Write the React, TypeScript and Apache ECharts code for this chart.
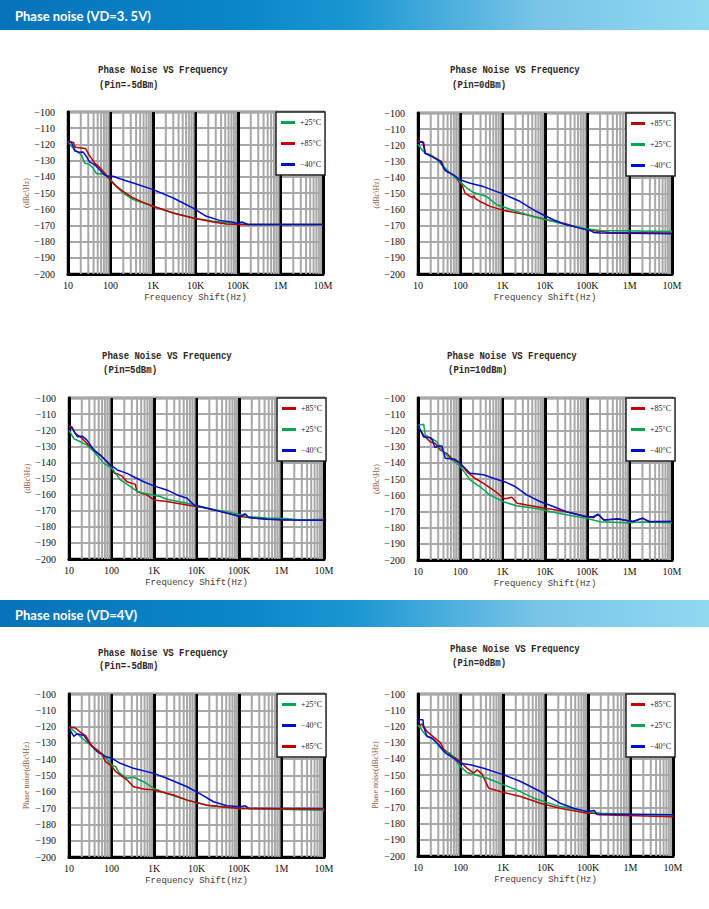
import React, { useEffect, useRef } from "react";
import * as echarts from "echarts";

// ---------- axis / tick definitions ----------
const xTickLabels = ["10", "100", "1K", "10K", "100K", "1M", "10M"];
const xMin = 10;
const xMax = 1e7;
const yMin = -200;
const yMax = -100;
const yStep = 10;
const decades = [10, 100, 1e3, 1e4, 1e5, 1e6];
const minorMultipliers = [2, 3, 4, 5, 6, 7, 8, 9];

const NAME_P85 = "+85°C";
const NAME_P25 = "+25°C";
const NAME_M40 = "−40°C";

// ---------- Chart 1 : VD=3.5V, Pin=-5dBm ----------
const a1_p25 = [[10,-117.7],[12,-121.2],[15.7,-124.3],[20.6,-126.3],[24.7,-131.5],[32.5,-132.5],[38.8,-134.6],[46.6,-138],[66.9,-138.3],[80.2,-139.7],[101,-141.8],[138,-145.9],[198,-150],[344,-154.1],[1010,-158.2],[2980,-162.3],[8800,-165.4],[26000,-167.5],[77000,-168.5],[98000,-169.1],[163000,-169.5],[1e7,-169.5]];
const a1_p85 = [[10,-118.5],[13.6,-118.9],[14.6,-121.8],[26,-122.6],[31,-126.3],[42.5,-131.5],[55.6,-134.2],[73,-137.7],[101,-142.4],[138,-145.9],[198,-149],[344,-153.1],[590,-155.8],[1010,-158.2],[3000,-162.3],[8800,-165.4],[26000,-167.9],[54000,-169.1],[110000,-169.5],[1e7,-169.5]];
const a1_m40 = [[10,-117.7],[12,-118.5],[14.4,-123.9],[18.8,-124.9],[22.6,-124.7],[27,-127.4],[32.5,-130.9],[42.5,-132.5],[55.6,-135.6],[69,-138.3],[87,-139.7],[115,-139.7],[165,-141.2],[344,-143.8],[1010,-147.9],[3000,-153.1],[8800,-159.3],[18000,-164.4],[37000,-166.9],[77000,-168.1],[102000,-168.9],[123000,-167.9],[148000,-168.7],[176000,-169.5],[1e7,-169.5]];

// ---------- Chart 2 : VD=3.5V, Pin=0dBm ----------
const b2_p85 = [[10,-117.4],[13.6,-118.2],[14.9,-125],[19.6,-126],[28,-128.5],[33.6,-129.8],[36,-130],[40.3,-134.3],[48,-136.4],[69,-138.4],[99,-143.6],[109,-144.6],[130,-149.8],[171,-151.9],[200,-152.5],[210,-151.5],[224,-153],[294,-155],[506,-158],[1040,-160.5],[3700,-163.2],[10900,-166.3],[32000,-169],[96000,-172.5],[140000,-173.1],[340000,-174.2],[1e7,-174.6]];
const b2_p25 = [[10,-119.4],[12.4,-122.9],[14.9,-125],[19.6,-126],[28,-129],[40.3,-133.3],[57.8,-137.4],[99,-142.6],[143,-146.7],[205,-149.4],[420,-151.9],[725,-157],[1250,-159],[2100,-161.2],[5300,-164.3],[10900,-166.3],[32000,-169.4],[96000,-171.9],[200000,-173],[1e7,-173.6]];
const b2_m40 = [[10,-118.2],[13.1,-118.2],[14.6,-125],[21,-127],[33.6,-130],[44,-135.7],[69,-138.4],[99,-141.5],[171,-143.6],[350,-145.7],[1040,-150.4],[2600,-155],[6300,-161.2],[15700,-166.3],[32000,-169.4],[66000,-171.5],[120000,-173.1],[140000,-174.2],[200000,-174.6],[1e7,-175]];

// ---------- Chart 3 : VD=3.5V, Pin=5dBm ----------
const c3_p85 = [[10,-117.5],[11.8,-118],[14,-122],[18.5,-124.1],[26.5,-128.2],[41.6,-133.4],[54.6,-135.5],[78,-139.6],[103,-143.7],[118,-146.8],[135,-147],[176,-148.5],[232,-152],[300,-153],[360,-153.5],[400,-158.1],[685,-160.2],[990,-163.3],[2000,-164.3],[6000,-166.4],[17800,-168.5],[52000,-171.5],[107000,-173.6],[220000,-174.6],[1100000,-175.7],[1e7,-175.5]];
const c3_p25 = [[10,-120],[13,-125.2],[18.5,-127.2],[26.5,-129.3],[38.8,-133.4],[66.5,-140.6],[103,-143.7],[162,-150.9],[280,-155],[400,-158],[575,-159.2],[1400,-161.2],[2000,-162.9],[6000,-165.4],[17800,-168.5],[76000,-171.5],[155000,-173.6],[450000,-174.6],[1200000,-174.8],[2800000,-175.7],[1e7,-175.7]];
const c3_m40 = [[10,-119],[11.5,-118.4],[15.7,-124],[20.6,-123.7],[26.5,-126.2],[38.8,-132.4],[54.6,-135.5],[95,-141.6],[137,-144.7],[232,-146.8],[330,-148.9],[575,-152],[990,-154.6],[2000,-157.1],[3500,-160.2],[6000,-162.3],[8700,-166.4],[17800,-168.5],[52000,-171.5],[107000,-173.6],[140000,-171.9],[170000,-174.2],[450000,-175.3],[2800000,-176],[1e7,-176]];

// ---------- Chart 4 : VD=3.5V, Pin=10dBm ----------
const d4_p85 = [[10,-117.5],[13.6,-123],[19.5,-127.1],[25.6,-128.1],[33.6,-132.2],[48,-134.3],[63,-137.4],[99,-140.5],[143,-145.6],[225,-149.7],[352,-152.7],[607,-156.8],[950,-160.9],[1140,-162.2],[1650,-161.3],[2200,-165],[3700,-166.1],[10900,-168.2],[32000,-170.2],[96000,-173.3],[140000,-173.9],[180000,-171.9],[245000,-175.3],[540000,-174.5],[700000,-175.3],[1200000,-176.2],[2000000,-174.2],[2900000,-176.2],[1e7,-176.2]];
const d4_p25 = [[10,-116.9],[13.6,-116.2],[14.9,-123],[21.4,-125.1],[28,-127.1],[36.8,-132.2],[57.8,-137.4],[99,-142.1],[171,-150.7],[294,-154.8],[506,-160],[1040,-164],[2100,-166.5],[6300,-168.2],[22000,-171.3],[96000,-174.3],[200000,-176.4],[830000,-177],[2000000,-176.6],[1e7,-177]];
const d4_p40 = [[10,-116.9],[13.6,-124.1],[19.5,-124.6],[22,-126],[25,-130.6],[30,-129.6],[36.8,-129.6],[44,-137.2],[75,-137.8],[99,-140.3],[171,-146.4],[352,-147.4],[607,-149.5],[1250,-152.2],[1950,-154.6],[3700,-159.8],[7600,-163.9],[15700,-167],[32000,-170.2],[96000,-173.3],[140000,-173.3],[180000,-171.7],[245000,-175.3],[540000,-174.7],[1200000,-176.2],[2000000,-174.2],[2900000,-176.4],[1e7,-176.2]];

// ---------- Chart 5 : VD=4V, Pin=-5dBm ----------
const e5_p25 = [[10,-120.3],[11.8,-121.6],[22.5,-128.1],[32.3,-131.2],[42.3,-134.3],[55,-136.3],[66,-137.4],[100,-143.5],[125,-144.6],[150,-148.3],[234,-151.7],[330,-151.1],[570,-153.8],[990,-157.9],[2000,-161],[6000,-165.1],[17800,-168.2],[52000,-169.6],[107000,-170.2],[450000,-170.6],[1e7,-171.3]];
const e5_m40 = [[10,-121],[13,-126],[15.4,-124.4],[22.5,-125.5],[32.3,-131.2],[46,-135.3],[72,-138.4],[100,-139.4],[160,-142.5],[330,-145.6],[990,-148.7],[2000,-151.7],[6000,-156.9],[12500,-161.4],[25000,-166.1],[52000,-168.6],[107000,-169.2],[140000,-168.6],[170000,-170.2],[1e7,-170.2]];
const e5_p85 = [[10,-120.3],[14.3,-120.9],[18.8,-123.6],[24.6,-125.5],[35,-132.2],[46,-134.3],[60,-136.8],[72,-141.5],[100,-144.1],[125,-147.6],[234,-152.8],[330,-156.9],[570,-158.3],[990,-158.9],[2900,-162],[6000,-165.1],[17800,-168.2],[107000,-170.2],[1e7,-170.6]];

// ---------- Chart 6 : VD=4V, Pin=0dBm ----------
const f6_p85 = [[10,-120.4],[12.4,-118.4],[16.3,-123.1],[23.4,-126.6],[31,-129.2],[33.5,-129.9],[40,-134],[57.5,-137.5],[99,-141.6],[142,-145.8],[204,-148.9],[245,-146.8],[320,-149.3],[460,-158.1],[860,-160.2],[2600,-163.3],[7600,-167.4],[22000,-170.5],[96000,-173.6],[140000,-173.6],[180000,-174.6],[1e7,-175.7]];
const f6_p25 = [[10,-119],[14.9,-125.2],[23.4,-128.2],[40,-135.5],[57.5,-136.5],[99,-144.7],[142,-148.5],[420,-152],[1040,-156.1],[2100,-159.2],[5300,-164.3],[22000,-169.5],[96000,-172.6],[200000,-173.6],[850000,-174.2],[1e7,-174.6]];
const f6_m40 = [[10,-116.9],[11,-115.9],[13.1,-115.9],[13.6,-120.4],[16.3,-126.2],[21.3,-127.2],[31,-131.3],[44.5,-136.5],[69,-139.6],[99,-142.7],[171,-143.7],[350,-145.8],[1040,-149.9],[2600,-154],[7600,-160.2],[22000,-167.4],[46000,-170.5],[96000,-172.6],[140000,-171.9],[160000,-174],[1e7,-174.6]];

// ---------- styling ----------
const RED = "#c00000";
const GREEN = "#00a651";
const BLUE = "#0010c8";
const GRID_GRAY = "#a8a8a8";
const MONO = '"Liberation Mono", "DejaVu Sans Mono", monospace';
const SERIF = '"Liberation Serif", "DejaVu Serif", serif';

type Pt = number[];
interface ChartCfg {
  grid: { left: number; top: number; width: number; height: number };
  titleXY: [number, number];
  subXY: [number, number];
  sub: string;
  yName: string;
  yNameGap: number;
  legendXY: [number, number];
  series: { name: string; data: Pt[]; color: string }[];
}

const charts: ChartCfg[] = [
  {
    grid: { left: 68, top: 112, width: 255, height: 162 },
    titleXY: [98, 70], subXY: [99, 85], sub: "(Pin=-5dBm)",
    yName: "(dBc\\Hz)", yNameGap: 37, legendXY: [276, 112],
    series: [
      { name: NAME_P25, data: a1_p25, color: GREEN },
      { name: NAME_P85, data: a1_p85, color: RED },
      { name: NAME_M40, data: a1_m40, color: BLUE },
    ],
  },
  {
    grid: { left: 418, top: 113, width: 254, height: 161 },
    titleXY: [450, 70], subXY: [452, 85], sub: "(Pin=0dBm)",
    yName: "(dBc\\Hz)", yNameGap: 37, legendXY: [626, 113],
    series: [
      { name: NAME_P85, data: b2_p85, color: RED },
      { name: NAME_P25, data: b2_p25, color: GREEN },
      { name: NAME_M40, data: b2_m40, color: BLUE },
    ],
  },
  {
    grid: { left: 69, top: 398, width: 255, height: 161 },
    titleXY: [102, 356], subXY: [103, 370], sub: "(Pin=5dBm)",
    yName: "(dBc\\Hz)", yNameGap: 37, legendXY: [277, 398],
    series: [
      { name: NAME_P85, data: c3_p85, color: RED },
      { name: NAME_P25, data: c3_p25, color: GREEN },
      { name: NAME_M40, data: c3_m40, color: BLUE },
    ],
  },
  {
    grid: { left: 418, top: 398, width: 254, height: 162 },
    titleXY: [447, 356], subXY: [448, 370], sub: "(Pin=10dBm)",
    yName: "(dBc\\Hz)", yNameGap: 37, legendXY: [626, 398],
    series: [
      { name: NAME_P85, data: d4_p85, color: RED },
      { name: NAME_P25, data: d4_p25, color: GREEN },
      { name: NAME_M40, data: d4_p40, color: BLUE },
    ],
  },
  {
    grid: { left: 69, top: 694, width: 255, height: 163 },
    titleXY: [98, 653], subXY: [99, 666], sub: "(Pin=-5dBm)",
    yName: "Phase noise(dBc\\Hz)", yNameGap: 39, legendXY: [277, 694],
    series: [
      { name: NAME_P25, data: e5_p25, color: GREEN },
      { name: NAME_M40, data: e5_m40, color: BLUE },
      { name: NAME_P85, data: e5_p85, color: RED },
    ],
  },
  {
    grid: { left: 418, top: 694, width: 255, height: 162 },
    titleXY: [450, 649], subXY: [452, 663], sub: "(Pin=0dBm)",
    yName: "Phase noise(dBc\\Hz)", yNameGap: 39, legendXY: [626, 694],
    series: [
      { name: NAME_P85, data: f6_p85, color: RED },
      { name: NAME_P25, data: f6_p25, color: GREEN },
      { name: NAME_M40, data: f6_m40, color: BLUE },
    ],
  },
];

const headers = [
  { text: "Phase noise (VD=3. 5V)", top: 0, height: 30 },
  { text: "Phase noise (VD=4V)", top: 600, height: 27 },
];

function buildOption() {
  const minorFreqs = decades.flatMap((d) => minorMultipliers.map((m) => m * d));
  const grid: any[] = [];
  const xAxis: any[] = [];
  const yAxis: any[] = [];
  const series: any[] = [];
  const legend: any[] = [];
  const graphic: any[] = [];

  const headerFill = new echarts.graphic.LinearGradient(0, 0, 1, 0, [
    { offset: 0, color: "#0672ba" },
    { offset: 0.35, color: "#0a88c9" },
    { offset: 0.5, color: "#1b97d2" },
    { offset: 0.76, color: "#79c5e7" },
    { offset: 1, color: "#8fd9f1" },
  ]);
  headers.forEach((h) => {
    graphic.push({
      type: "rect",
      shape: { x: 0, y: h.top, width: 709, height: h.height },
      style: { fill: headerFill },
      silent: true,
    });
    graphic.push({
      type: "text",
      x: 15,
      y: h.top + h.height / 2 + 1,
      style: {
        text: h.text,
        fill: "#ffffff",
        font: 'bold 13px Lato, "Open Sans", sans-serif',
        verticalAlign: "middle",
        align: "left",
      },
      silent: true,
    });
  });

  charts.forEach((c, i) => {
    grid.push({
      ...c.grid,
      show: true,
      borderColor: "#111",
      borderWidth: 2.5,
      backgroundColor: "#ffffff",
      containLabel: false,
    });
    xAxis.push({
      type: "log",
      logBase: 10,
      gridIndex: i,
      min: xMin,
      max: xMax,
      name: "Frequency Shift(Hz)",
      nameLocation: "middle",
      nameGap: 19,
      nameTextStyle: { fontFamily: MONO, fontSize: 9, color: "#4a3a30" },
      axisLine: { show: true, lineStyle: { color: "#000", width: 3 } },
      axisTick: { show: false },
      splitLine: { show: true, lineStyle: { color: "#000", width: 3 } },
      axisLabel: {
        margin: 6,
        fontFamily: SERIF,
        fontSize: 10,
        color: "#111",
        showMinLabel: true,
        showMaxLabel: true,
        formatter: (v: number) => xTickLabels[Math.round(Math.log10(v)) - 1] ?? "",
      },
    });
    yAxis.push({
      type: "value",
      gridIndex: i,
      min: yMin,
      max: yMax,
      interval: yStep,
      name: c.yName,
      nameLocation: "middle",
      nameGap: c.yNameGap,
      nameTextStyle: { fontFamily: SERIF, fontSize: 8, color: "#8a5a3c" },
      axisLine: { show: true, lineStyle: { color: "#000", width: 3 } },
      axisTick: { show: false },
      splitLine: { show: true, lineStyle: { color: GRID_GRAY, width: 2 } },
      axisLabel: {
        margin: 13,
        fontFamily: SERIF,
        fontSize: 10,
        color: "#111",
        formatter: (v: number) => (v < 0 ? "\u2212" : "") + Math.abs(v),
      },
    });
    // minor vertical grid lines (2..9 within every decade)
    series.push({
      type: "custom",
      xAxisIndex: i,
      yAxisIndex: i,
      silent: true,
      z: 1,
      data: minorFreqs.map((f) => [f, yMin]),
      renderItem: (_p: any, api: any) => {
        const v = api.value(0);
        const a = api.coord([v, yMax]);
        const b = api.coord([v, yMin]);
        return {
          type: "line",
          shape: { x1: a[0], y1: a[1], x2: b[0], y2: b[1] },
          style: { stroke: GRID_GRAY, lineWidth: 2 },
        };
      },
    });
    c.series.forEach((s) => {
      series.push({
        type: "line",
        name: s.name,
        xAxisIndex: i,
        yAxisIndex: i,
        data: s.data,
        showSymbol: false,
        symbol: "none",
        color: s.color,
        lineStyle: { color: s.color, width: 1.5 },
        z: 3,
        silent: true,
      });
    });
    legend.push({
      orient: "vertical",
      left: c.legendXY[0],
      top: c.legendXY[1],
      data: c.series.map((s) => s.name),
      icon: "rect",
      itemWidth: 14,
      itemHeight: 3,
      itemGap: 12,
      padding: [6, 4, 6, 5],
      backgroundColor: "#ffffff",
      borderColor: "#222",
      borderWidth: 1.5,
      selectedMode: false,
      textStyle: { fontFamily: SERIF, fontSize: 8, color: "#222", lineHeight: 9 },
      z: 10,
    });
    graphic.push({
      type: "text",
      x: c.titleXY[0],
      y: c.titleXY[1],
      scaleX: 0.82,
      style: {
        text: "Phase Noise VS Frequency",
        fill: "#2e2824",
        font: `bold 11px ${MONO}`,
        verticalAlign: "middle",
        align: "left",
      },
      silent: true,
    });
    graphic.push({
      type: "text",
      x: c.subXY[0],
      y: c.subXY[1],
      scaleX: 0.82,
      style: {
        text: c.sub,
        fill: "#2e2824",
        font: `bold 11px ${MONO}`,
        verticalAlign: "middle",
        align: "left",
      },
      silent: true,
    });
  });

  return {
    animation: false,
    backgroundColor: "#ffffff",
    grid,
    xAxis,
    yAxis,
    series,
    legend,
    graphic,
  };
}

export default function App() {
  const ref = useRef<HTMLDivElement>(null);
  useEffect(() => {
    if (!ref.current) return;
    const chart = echarts.init(ref.current, null, { renderer: "svg" });
    chart.setOption(buildOption() as any);
    return () => chart.dispose();
  }, []);
  return (
    <div
      ref={ref}
      style={{ position: "absolute", left: 0, top: 0, width: 709, height: 909, background: "#fff" }}
    />
  );
}
